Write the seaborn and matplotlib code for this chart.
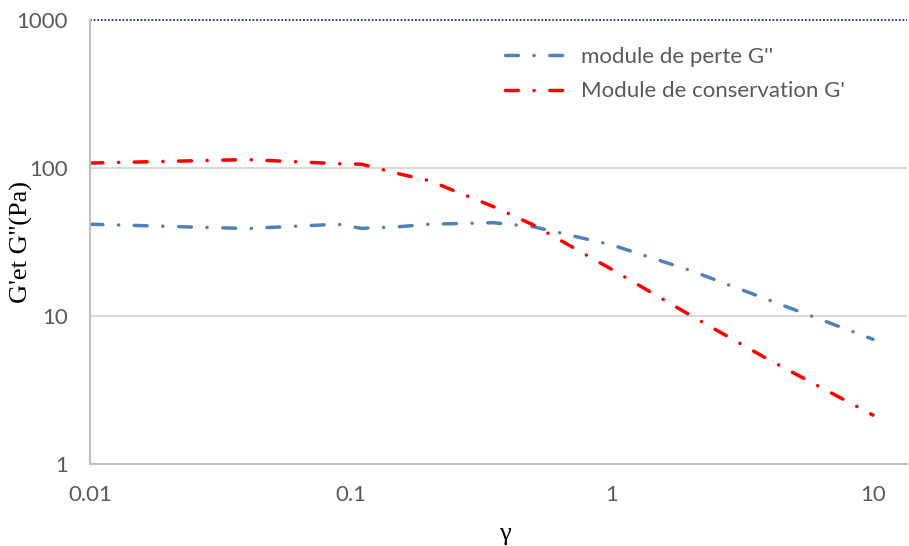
import matplotlib
matplotlib.use("Agg")
import matplotlib.pyplot as plt
import seaborn as sns
import pandas as pd

# Strain sweep: loss and storage moduli versus strain amplitude
gamma = [0.01, 0.04, 0.089, 0.11, 0.15, 0.2, 0.35, 0.5, 1, 2, 4, 10]
g_loss = [41.7, 39.0, 41.7, 39.1, 40.0, 41.7, 42.7, 40.1, 30.2, 20.3, 12.8, 6.96]
g_storage = [108, 114, 107, 106, 92, 82, 55, 41.2, 20.6, 10.1, 5.05, 2.14]

series_names = ["module de perte G''", "Module de conservation G'"]
series_colors = ["#4F81BD", "#FF0000"]

df = pd.concat([
    pd.DataFrame({"gamma": gamma, "G": g_loss, "serie": series_names[0]}),
    pd.DataFrame({"gamma": gamma, "G": g_storage, "serie": series_names[1]}),
])

sns.set_theme(style="white")
plt.rcParams["font.family"] = ["Lato", "DejaVu Sans"]

fig = plt.figure(figsize=(9.09, 5.46), dpi=100)
ax = fig.add_axes([90 / 909, 1 - 464 / 546, (907 - 90) / 909, (464 - 20) / 546])

lw = 2.5
sns.lineplot(data=df, x="gamma", y="G", hue="serie", hue_order=series_names,
             palette=series_colors, ax=ax, linewidth=lw, legend=False,
             sort=False, estimator=None)
for line in ax.get_lines():
    line.set_dashes((3.7, 4.5, 0.05, 4.5))
    line.set_dash_capstyle("round")

ax.set_xscale("log")
ax.set_yscale("log")
ax.set_xlim(0.01, 10 ** ((907 - 90) / 261 - 2))
ax.set_ylim(1, 1000)

ax.set_xticks([0.01, 0.1, 1, 10])
ax.set_xticklabels(["0.01", "0.1", "1", "10"])
ax.set_yticks([1, 10, 100, 1000])
ax.set_yticklabels(["1", "10", "100", "1000"])
ax.minorticks_off()
ax.tick_params(axis="both", length=0, labelsize=16, labelcolor="#595959")
ax.tick_params(axis="x", pad=15)
ax.tick_params(axis="y", pad=16)

# horizontal gridlines at the decades
for v in [10, 100]:
    ax.axhline(v, color="#D9D9D9", lw=1.5, zorder=0)
ax.axhline(1000, color="#1F3864", lw=1.3, ls=(0, (1, 1)), zorder=0, clip_on=False)

for s in ["top", "right"]:
    ax.spines[s].set_visible(False)
for s in ["left", "bottom"]:
    ax.spines[s].set_color("#BFBFBF")
    ax.spines[s].set_linewidth(1.5)

ax.set_ylabel("G'et G''(Pa)", family=["Liberation Serif"], fontsize=19,
              color="black")
ax.yaxis.set_label_coords(-(90 - 33) / 817, 0.5)
ax.set_xlabel("γ", family=["Liberation Serif"], fontsize=19, color="black")
ax.xaxis.set_label_coords((505 - 90) / 817, -(523 - 464) / 444)

handles = ax.get_lines()[:2]
leg = ax.legend(handles, series_names, loc="upper left",
                bbox_to_anchor=((485 - 90) / 817, 1 - (27 - 20) / 444),
                frameon=False, fontsize=16, handlelength=2.6,
                handletextpad=0.8, labelspacing=0.65)
for t in leg.get_texts():
    t.set_color("#595959")

fig.savefig("out.png", dpi=100)
